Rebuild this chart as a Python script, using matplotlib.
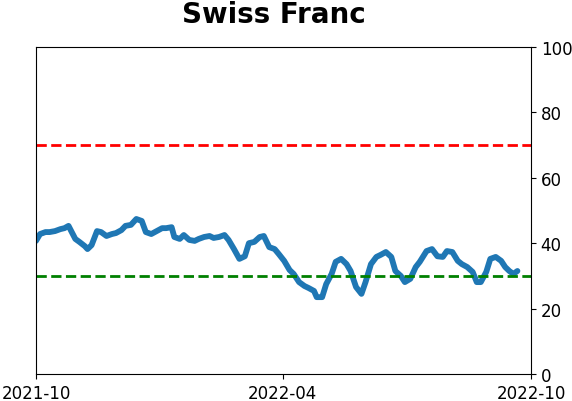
import matplotlib
matplotlib.use("Agg")
import matplotlib.pyplot as plt
import matplotlib.dates as mdates
import pandas as pd

dates = ["2021-10-01","2021-10-04","2021-10-08","2021-10-11","2021-10-15","2021-10-19","2021-10-22",
         "2021-10-25","2021-10-27","2021-10-30","2021-11-02","2021-11-06","2021-11-08","2021-11-11",
         "2021-11-15","2021-11-18","2021-11-22","2021-11-26","2021-11-29","2021-12-03","2021-12-06",
         "2021-12-10","2021-12-14","2021-12-18","2021-12-21","2021-12-25","2021-12-29","2022-01-02",
         "2022-01-05","2022-01-09","2022-01-11","2022-01-15","2022-01-18","2022-01-22","2022-01-26",
         "2022-01-29","2022-02-02","2022-02-06","2022-02-09","2022-02-13","2022-02-17","2022-02-20",
         "2022-02-24","2022-02-28","2022-03-04","2022-03-07","2022-03-11","2022-03-15","2022-03-18",
         "2022-03-22","2022-03-26","2022-03-29","2022-04-02","2022-04-06","2022-04-09","2022-04-13",
         "2022-04-17","2022-04-20","2022-04-24","2022-04-26","2022-04-30","2022-05-03","2022-05-07",
         "2022-05-10","2022-05-14","2022-05-18","2022-05-21","2022-05-25","2022-05-29","2022-06-01",
         "2022-06-05","2022-06-09","2022-06-12","2022-06-16","2022-06-20","2022-06-23","2022-06-27",
         "2022-06-30","2022-07-04","2022-07-08","2022-07-11","2022-07-16","2022-07-20","2022-07-24",
         "2022-07-28","2022-07-31","2022-08-04","2022-08-08","2022-08-11","2022-08-15","2022-08-19",
         "2022-08-22","2022-08-25","2022-08-29","2022-09-01","2022-09-05","2022-09-09","2022-09-12",
         "2022-09-15","2022-09-18","2022-09-21"]
values = [40.7,42.8,43.4,43.4,43.7,44.3,44.6,
          45.3,43.7,41.3,40.4,39.1,38.2,39.4,
          43.7,43.4,42.2,42.8,43.1,44.0,45.3,
          45.6,47.4,46.8,43.4,42.8,43.7,44.6,
          44.6,44.9,41.9,41.3,42.5,41.0,40.7,
          41.3,41.9,42.2,41.6,41.9,42.5,41.0,
          38.2,35.2,36.0,40.0,40.4,41.9,42.2,
          38.8,38.2,36.7,34.6,31.8,30.6,28.1,
          26.9,26.3,25.4,23.5,23.5,27.5,30.6,
          34.3,35.2,33.6,31.5,26.6,24.5,28.1,
          33.6,35.8,36.4,37.3,35.8,31.5,30.0,
          28.1,29.1,32.7,34.3,37.6,38.2,36.0,
          35.8,37.6,37.3,34.6,33.6,32.7,31.2,
          28.1,28.1,31.2,35.2,35.8,34.6,32.7,
          31.5,30.6,31.5]
upper_level = 70
lower_level = 30
title = "Swiss Franc"
xticks = ["2021-10-01", "2022-04-01", "2022-10-01"]

fig = plt.figure(figsize=(5.72, 4.02), dpi=100)
ax = fig.add_axes([0.0629, 0.0672, 0.8654, 0.8134])
x = pd.to_datetime(dates)
ax.plot(x, values, color="#1f77b4", lw=4.2, solid_capstyle="round", solid_joinstyle="round")
ax.axhline(upper_level, color="red", ls="--", lw=2)
ax.axhline(lower_level, color="green", ls="--", lw=2)
ax.set_ylim(0, 100)
ax.set_xlim(pd.Timestamp(xticks[0]), pd.Timestamp(xticks[-1]))
ax.set_xticks(pd.to_datetime(xticks))
ax.xaxis.set_major_formatter(mdates.DateFormatter("%Y-%m"))
ax.yaxis.tick_right()
ax.set_yticks([0, 20, 40, 60, 80, 100])
ax.tick_params(labelsize=12)
ax.set_title(title, fontsize=20, fontweight="bold", pad=18, x=0.481)
fig.savefig("out.png", dpi=100)
